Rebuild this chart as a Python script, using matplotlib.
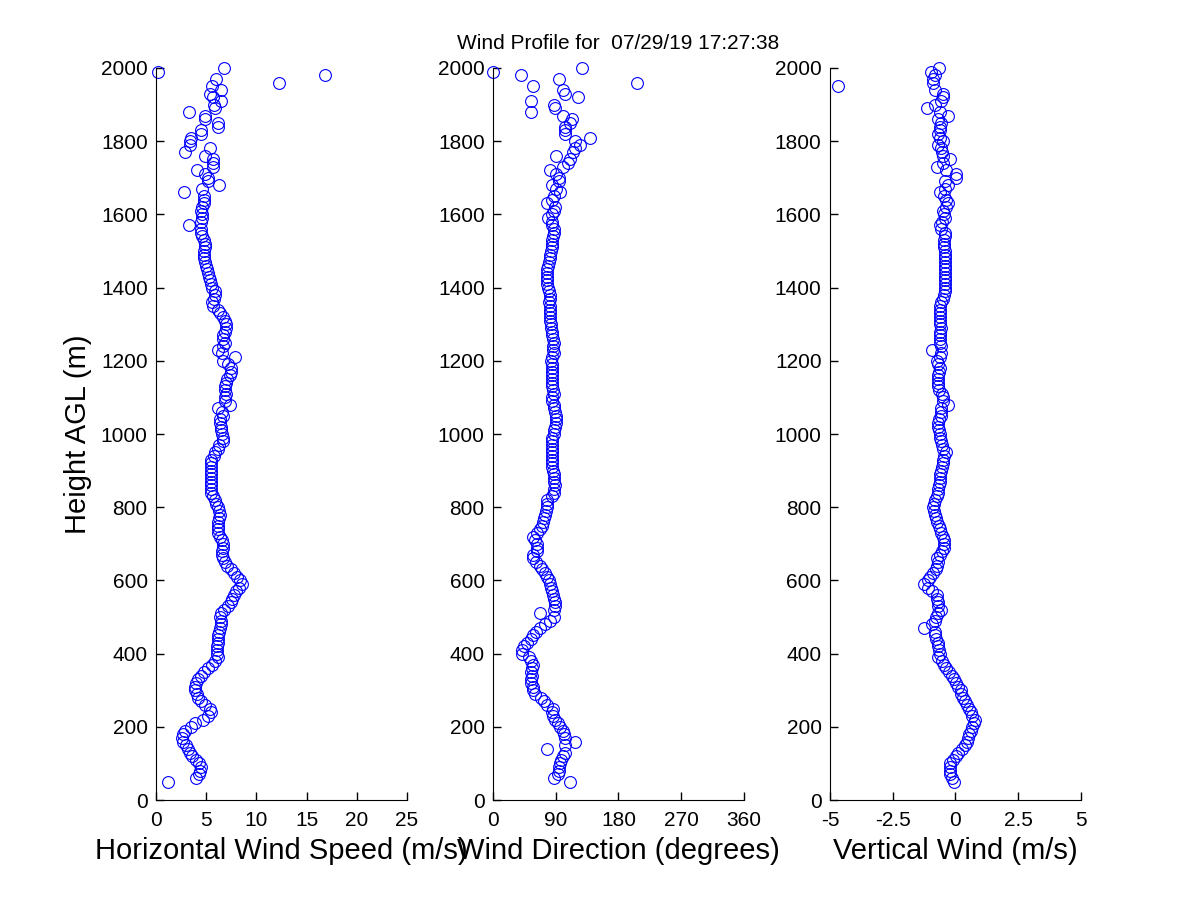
import numpy as np
import matplotlib
matplotlib.use('Agg')
import matplotlib.pyplot as plt

plt.rcParams['font.family'] = ['Liberation Sans', 'DejaVu Sans']

# Heights of the range gates (m AGL), one every 10 m
heights = np.arange(50, 2001, 10)

# Horizontal wind speed (m/s), 10 values per row = 100 m
speed = [
    1.2, 4.0, 4.3, 4.4, 4.5, 4.3, 4.0, 3.6, 3.4, 3.2,
    2.95, 2.7, 2.6, 2.7, 2.9, 3.5, 3.9, 4.7, 5.2, 5.5,
    5.4, 4.9, 4.5, 4.2, 4.05, 3.9, 3.9, 4.0, 4.2, 4.5,
    4.8, 5.2, 5.6, 5.9, 6.2, 6.1, 6.05, 6.1, 6.2, 6.2,
    6.2, 6.3, 6.4, 6.5, 6.5, 6.4, 6.5, 6.8, 7.2, 7.5,
    7.6, 7.8, 8.0, 8.3, 8.6, 8.4, 8.1, 7.8, 7.5, 7.1,
    6.9, 6.7, 6.6, 6.6, 6.7, 6.7, 6.6, 6.4, 6.2, 6.2,
    6.2, 6.2, 6.3, 6.4, 6.3, 6.2, 6.0, 5.9, 5.7, 5.5,
    5.5, 5.5, 5.5, 5.5, 5.5, 5.45, 5.5, 5.5, 5.5, 5.8,
    5.9, 6.2, 6.3, 6.7, 6.7, 6.6, 6.5, 6.5, 6.4, 6.4,
    6.7, 6.6, 6.2, 7.4, 6.9, 6.9, 7.0, 6.9, 6.9, 7.0,
    7.1, 7.4, 7.5, 7.5, 7.2, 6.7, 7.9, 6.6, 6.2, 6.7,
    6.9, 6.7, 6.7, 6.9, 7.0, 7.0, 6.9, 6.7, 6.4, 6.2,
    5.7, 5.6, 5.8, 5.9, 5.9, 5.6, 5.5, 5.4, 5.3, 5.2,
    5.1, 5.0, 4.9, 4.8, 4.8, 4.8, 4.9, 4.9, 4.8, 4.6,
    4.5, 4.5, 3.3, 4.5, 4.6, 4.6, 4.5, 4.6, 4.8, 4.8,
    4.8, 2.8, 4.6, 6.3, 5.2, 5.2, 4.9, 4.05, 5.7, 5.7,
    5.7, 4.9, 2.9, 5.4, 3.4, 3.4, 3.5, 4.5, 4.5, 6.2,
    6.2, 4.9, 4.9, 3.3, 5.9, 5.8, 6.5, 5.7, 5.4, 6.5,
    5.6, 12.2, 6.0, 16.8, 0.2, 6.8,
]

# Wind direction (degrees)
direction = [
    110, 88, 93, 94, 95, 96, 98, 100, 103, 78,
    103, 118, 103, 102, 100, 96, 93, 89, 86, 84,
    86, 77, 73, 69, 60, 58, 57, 55, 55, 56,
    55, 56, 58, 55, 52, 41, 41, 45, 49, 54,
    58, 62, 68, 75, 82, 87, 68, 87, 89, 89,
    88, 86, 84, 83, 82, 80, 77, 74, 71, 67,
    62, 58, 58, 63, 63, 63, 60, 58, 63, 68,
    70, 72, 73, 75, 76, 77, 77, 78, 84, 87,
    88, 89, 88, 87, 87, 86, 84, 84, 84, 84,
    84, 84, 84, 84, 85, 87, 88, 89, 90, 91,
    90, 89, 88, 87, 85, 84, 87, 86, 84, 84,
    84, 84, 84, 84, 84, 83, 85, 87, 86, 86,
    87, 86, 85, 84, 83, 83, 82, 82, 82, 82,
    82, 81, 82, 82, 81, 79, 78, 77, 77, 77,
    78, 79, 81, 82, 82, 83, 84, 84, 84, 86,
    87, 87, 84, 84, 79, 84, 87, 89, 77, 85,
    87, 96, 91, 84, 94, 94, 91, 82, 100, 108,
    110, 91, 115, 118, 125, 118, 139, 103, 103, 103,
    110, 113, 101, 55, 89, 88, 55, 122, 103, 101,
    58, 207, 95, 40, 0, 128,
]

# Vertical wind (m/s)
vertical = [
    -0.05, -0.15, -0.2, -0.22, -0.22, -0.2, -0.08, 0.04, 0.1, 0.25,
    0.37, 0.45, 0.5, 0.55, 0.6, 0.65, 0.75, 0.77, 0.66, 0.63,
    0.55, 0.48, 0.38, 0.3, 0.24, 0.22, 0.12, 0.04, -0.07, -0.15,
    -0.25, -0.36, -0.45, -0.55, -0.69, -0.62, -0.64, -0.68, -0.71, -0.78,
    -0.8, -0.82, -1.26, -0.95, -0.82, -0.77, -0.7, -0.58, -0.68, -0.7,
    -0.72, -0.75, -0.95, -1.08, -1.26, -1.1, -1.0, -0.89, -0.78, -0.75,
    -0.7, -0.72, -0.6, -0.52, -0.45, -0.45, -0.45, -0.5, -0.56, -0.6,
    -0.64, -0.72, -0.77, -0.82, -0.85, -0.89, -0.85, -0.8, -0.75, -0.7,
    -0.68, -0.64, -0.62, -0.62, -0.6, -0.58, -0.53, -0.49, -0.49, -0.45,
    -0.36, -0.5, -0.55, -0.58, -0.6, -0.62, -0.66, -0.69, -0.71, -0.64,
    -0.56, -0.56, -0.56, -0.28, -0.49, -0.51, -0.55, -0.66, -0.7, -0.71,
    -0.71, -0.71, -0.66, -0.62, -0.7, -0.74, -0.62, -0.58, -0.92, -0.56,
    -0.6, -0.62, -0.62, -0.6, -0.58, -0.6, -0.62, -0.62, -0.62, -0.6,
    -0.62, -0.56, -0.5, -0.45, -0.43, -0.42, -0.41, -0.4, -0.4, -0.4,
    -0.4, -0.4, -0.41, -0.42, -0.42, -0.43, -0.45, -0.45, -0.45, -0.43,
    -0.42, -0.56, -0.62, -0.55, -0.42, -0.46, -0.49, -0.38, -0.29, -0.36,
    -0.45, -0.62, -0.4, -0.29, -0.42, 0.04, 0.04, -0.36, -0.75, -0.5,
    -0.22, -0.49, -0.52, -0.56, -0.69, -0.49, -0.6, -0.71, -0.62, -0.6,
    -0.56, -0.69, -0.29, -0.62, -1.15, -0.82, -0.56, -0.5, -0.49, -0.82,
    -4.68, -0.89, -0.89, -0.8, -0.98, -0.66,
]

xlims = [(0, 25), (0, 360), (-5, 5)]
xticks = [[0, 5, 10, 15, 20, 25], [0, 90, 180, 270, 360], [-5, -2.5, 0, 2.5, 5]]
xticklabels = [['0', '5', '10', '15', '20', '25'],
               ['0', '90', '180', '270', '360'],
               ['-5', '-2.5', '0', '2.5', '5']]
xlabels = ['Horizontal Wind Speed (m/s)', 'Wind Direction (degrees)', 'Vertical Wind (m/s)']
yticks = list(range(0, 2001, 200))

fig = plt.figure(figsize=(12, 9), dpi=100)
lefts = [0.13, 0.4108, 0.6916]
series = [speed, direction, vertical]

for i in range(3):
    ax = fig.add_axes([lefts[i], 0.111, 0.2092, 0.8135])
    ax.plot(series[i], heights, 'o', markerfacecolor='none', markeredgecolor='blue',
            markersize=8.5, markeredgewidth=0.8, clip_on=False)
    ax.set_xlim(*xlims[i])
    ax.set_ylim(0, 2000)
    ax.set_xticks(xticks[i])
    ax.set_xticklabels(xticklabels[i])
    ax.set_yticks(yticks)
    ax.spines['top'].set_visible(False)
    ax.spines['right'].set_visible(False)
    ax.tick_params(direction='in', length=6, labelsize=15, width=1)
    ax.tick_params(axis='x', pad=8)
    ax.tick_params(axis='y', pad=6)
    ax.set_xlabel(xlabels[i], fontsize=21, labelpad=5)
    if i == 0:
        ax.set_ylabel('Height AGL (m)', fontsize=21, labelpad=6)
    if i == 1:
        ax.set_title('Wind Profile for  07/29/19 17:27:38', fontsize=15, pad=14)

fig.savefig('out.png', dpi=100)
